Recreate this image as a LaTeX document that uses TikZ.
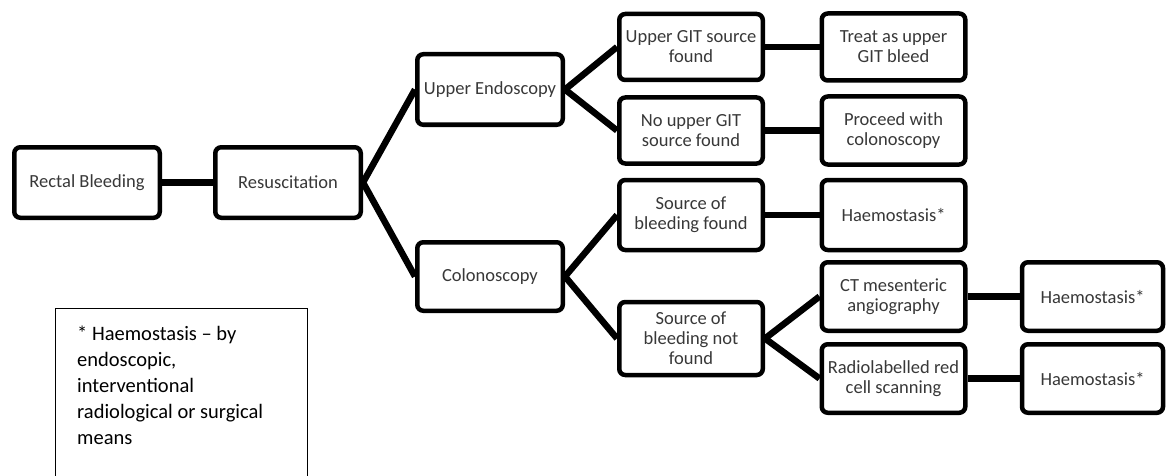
\documentclass[tikz,border=0pt]{standalone}
\usepackage{fontspec}
\setmainfont{Carlito}
\begin{document}
\begin{tikzpicture}[x=1pt,y=-1pt,
  flowbox/.style={draw=black, line width=4.5pt, rounded corners=6pt, align=center,
    inner sep=2pt, text=black!78, font=\fontsize{18.5}{20}\selectfont},
  bigbox/.style={flowbox, minimum width=145.5pt, minimum height=70.5pt},
  midbox/.style={flowbox, minimum width=143.5pt, minimum height=68.5pt},
  link/.style={line width=6.5pt, black}]
\useasboundingbox (0,0) rectangle (1166,476);
\fill[white] (0,0) rectangle (1166,476);
% column 1-2
\node[bigbox] (rb)  at (87,182.5) {Rectal Bleeding};
\node[bigbox] (res) at (288,182.5) {Resuscitation};
% column 3
\node[bigbox] (ue)  at (490,89.5) {Upper Endoscopy};
\node[bigbox, minimum height=68.5pt] (col) at (490,276.5) {Colonoscopy};
% column 4
\node[midbox, minimum height=66pt] (ugf) at (691,47) {Upper GIT source\\found};
\node[midbox, minimum height=66pt] (nug) at (691,130.5) {No upper GIT\\source found};
\node[midbox, minimum height=70pt] (sbf) at (691,215) {Source of\\bleeding found};
\node[midbox, minimum height=73pt] (sbn) at (691,338.5) {Source of\\bleeding not\\found};
% column 5
\node[midbox, minimum height=67pt] (treat) at (893.5,47) {Treat as upper\\GIT bleed};
\node[midbox, minimum height=68pt] (proc)  at (893.5,130.5) {Proceed with\\colonoscopy};
\node[midbox, minimum height=70pt] (h1)    at (893.5,215) {Haemostasis*};
\node[midbox] (ct)    at (893.5,296.5) {CT mesenteric\\angiography};
\node[midbox] (rad)   at (893.5,378.5) {Radiolabelled red\\cell scanning};
% column 6
\node[midbox, minimum width=141pt] (h2) at (1092.5,296.5) {Haemostasis*};
\node[midbox, minimum width=141pt] (h3) at (1092.5,378.5) {Haemostasis*};
% connectors
\draw[link] (rb.east) -- (res.west);
\draw[link] (res.east) -- (ue.west);
\draw[link] (res.east) -- (col.west);
\draw[link] (ue.east) -- (ugf.west);
\draw[link] (ue.east) -- (nug.west);
\draw[link] (col.east) -- (sbf.west);
\draw[link] (col.east) -- (sbn.west);
\draw[link] (ugf.east) -- (treat.west);
\draw[link] (nug.east) -- (proc.west);
\draw[link] (sbf.east) -- (h1.west);
\draw[link] (sbn.east) -- (ct.west);
\draw[link] (sbn.east) -- (rad.west);
\draw[link] (ct.east) -- (h2.west);
\draw[link] (rad.east) -- (h3.west);
% note box
\draw[line width=1pt, black] (55,308) rectangle (307,480);
\node[anchor=north west, align=left, inner sep=0pt,
  font=\fontsize{20.5}{26}\selectfont] (note) at (77,326)
  {* Haemostasis -- by\\endoscopic,\\interventional\\radiological or surgical\\means};
\end{tikzpicture}
\end{document}
